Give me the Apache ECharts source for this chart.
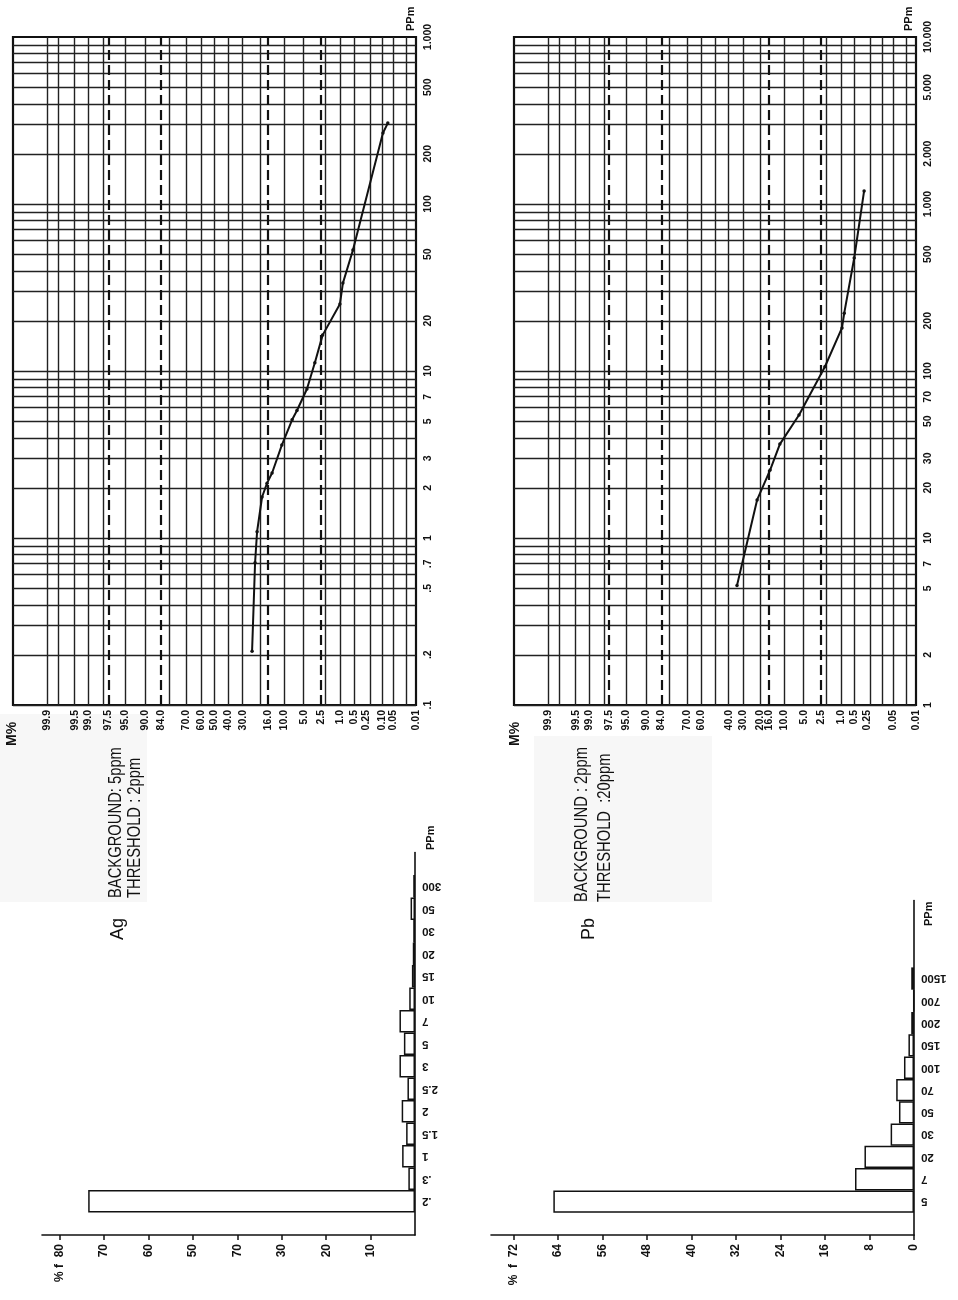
<!DOCTYPE html>
<html>
<head>
<meta charset="utf-8">
<title>Ag / Pb probability plots and histograms</title>
<script src="https://cdn.jsdelivr.net/npm/echarts@6/dist/echarts.min.js"></script>
<style>
  html, body { margin: 0; padding: 0; background: #fff; }
  #chart { width: 958px; height: 1300px; }
</style>
</head>
<body>
<div id="chart"></div>
<script>
var FONT = '"Liberation Sans", Arial, sans-serif';
var INK = '#111';

// cumulative frequency curves, % of samples >= value
var agCumPct = [24.4, 22.7, 21.6, 19.0, 16.6, 14.4, 10.7, 7.6, 6.4, 4.4, 3.2, 2.3, 1.03, 0.89, 0.53, 0.094, 0.069];
var agCumPpm = [0.21, 0.71, 1.09, 1.76, 2.13, 2.45, 3.6, 5.1, 5.8, 7.8, 11.2, 16.4, 25.2, 33.6, 53, 266, 305];
var pbCumPct = [34.2, 21.8, 15.4, 11.5, 6.0, 2.1, 0.94, 0.84, 0.50, 0.29];
var pbCumPpm = [5.2, 16.9, 25.5, 36.5, 54.5, 106, 181, 222, 475, 1197];

// dashed reference lines (mean +-1 and +-2 sigma)
var refPct = [97.5, 84, 16, 2.5];
// rulings of the probability paper
var probRulings = [99.9, 99.8, 99.5, 99, 98, 95, 90, 80, 70, 60, 50, 40, 30, 20, 10, 5, 2, 1, 0.5, 0.2, 0.1, 0.05, 0.02];

var agProbTicks = [99.9, 99.5, 99.0, 97.5, 95.0, 90.0, 84.0, 70.0, 60.0, 50.0, 40.0, 30.0, 16.0, 10.0, 5.0, 2.5, 1.0, 0.5, 0.25, 0.10, 0.05, 0.01];
var agProbLabels = ['99.9', '99.5', '99.0', '97.5', '95.0', '90.0', '84.0', '70.0', '60.0', '50.0', '40.0', '30.0', '16.0', '10.0', '5.0', '2.5', '1.0', '0.5', '0.25', '0.10', '0.05', '0.01'];
var pbProbTicks = [99.9, 99.5, 99.0, 97.5, 95.0, 90.0, 84.0, 70.0, 60.0, 40.0, 30.0, 20.0, 16.0, 10.0, 5.0, 2.5, 1.0, 0.5, 0.25, 0.05, 0.01];
var pbProbLabels = ['99.9', '99.5', '99.0', '97.5', '95.0', '90.0', '84.0', '70.0', '60.0', '40.0', '30.0', '20.0', '16.0', '10.0', '5.0', '2.5', '1.0', '0.5', '0.25', '0.05', '0.01'];

var agPpmTicks = [0.1, 0.2, 0.5, 0.7, 1, 2, 3, 5, 7, 10, 20, 50, 100, 200, 500, 1000];
var agPpmLabels = ['.1', '.2', '.5', '.7', '1', '2', '3', '5', '7', '10', '20', '50', '100', '200', '500', '1.000'];
var pbPpmTicks = [1, 2, 5, 7, 10, 20, 30, 50, 70, 100, 200, 500, 1000, 2000, 5000, 10000];
var pbPpmLabels = ['1', '2', '5', '7', '10', '20', '30', '50', '70', '100', '200', '500', '1.000', '2.000', '5.000', '10.000'];

// histograms (% frequency per class)
var agBins = ['.2', '.3', '1', '1.5', '2', '2.5', '3', '5', '7', '10', '15', '20', '30', '50', '300'];
var agFreq = [73.6, 1.5, 2.9, 2.0, 3.0, 1.7, 3.5, 2.5, 3.5, 1.3, 0.7, 0.5, 0.4, 1.0, 0.4];
var agFreqTicks = [10, 20, 30, 40, 50, 60, 70, 80];
var agFreqLabels = ['10', '20', '30', '70', '50', '60', '70', '80'];

var pbBins = ['5', '7', '20', '30', '50', '70', '100', '150', '200', '700', '1500'];
var pbFreq = [64.8, 10.6, 8.9, 4.2, 2.7, 3.2, 1.8, 1.0, 0.5, 0.1, 0.5];
var pbFreqTicks = [0, 8, 16, 24, 32, 40, 48, 56, 64, 72];
var pbFreqLabels = ['0', '8', '16', '24', '32', '40', '48', '56', '64', '72'];

// normal probability scale (inverse normal cdf, Acklam)
function probit(pct) {
  var p = pct / 100, q, r;
  var a = [-39.69683028665376, 220.9460984245205, -275.9285104469687, 138.3577518672690, -30.66479806614716, 2.506628277459239];
  var b = [-54.47609879822406, 161.5858368580409, -155.6989798598866, 66.80131188771972, -13.28068155288572];
  var c = [-0.007784894002430293, -0.3223964580411365, -2.400758277161838, -2.549732539343734, 4.374664141464968, 2.938163982698783];
  var d = [0.007784695709041462, 0.3224671290700398, 2.445134137142996, 3.754408661907416];
  if (p < 0.02425) {
    q = Math.sqrt(-2 * Math.log(p));
    return (((((c[0] * q + c[1]) * q + c[2]) * q + c[3]) * q + c[4]) * q + c[5]) / ((((d[0] * q + d[1]) * q + d[2]) * q + d[3]) * q + 1);
  }
  if (p > 1 - 0.02425) {
    q = Math.sqrt(-2 * Math.log(1 - p));
    return -(((((c[0] * q + c[1]) * q + c[2]) * q + c[3]) * q + c[4]) * q + c[5]) / ((((d[0] * q + d[1]) * q + d[2]) * q + d[3]) * q + 1);
  }
  q = p - 0.5; r = q * q;
  return (((((a[0] * r + a[1]) * r + a[2]) * r + a[3]) * r + a[4]) * r + a[5]) * q / (((((b[0] * r + b[1]) * r + b[2]) * r + b[3]) * r + b[4]) * r + 1);
}

function nearestLabel(ticks, labels, tf) {
  return function (v) {
    var best = 0, d = Infinity;
    for (var i = 0; i < ticks.length; i++) {
      var e = Math.abs(tf(ticks[i]) - v);
      if (e < d) { d = e; best = i; }
    }
    return labels[best];
  };
}

function logRulings(lo, hi) {
  var out = [];
  for (var e = Math.round(Math.log10(lo)); e < Math.round(Math.log10(hi)); e++) {
    for (var m = 1; m <= 9; m++) out.push(e + Math.log10(m));
  }
  return out;
}

function pad(arr, before, after, fill) {
  var out = [];
  for (var i = 0; i < before; i++) out.push(fill);
  out = out.concat(arr);
  for (var j = 0; j < after; j++) out.push(fill);
  return out;
}

var labelFont = { fontFamily: FONT, fontWeight: 'bold', color: INK };

var xAxes = [], yAxes = [], series = [];

function probPlot(idx, cumPct, cumPpm, probTicks, probLabels, ppmTicks, ppmLabels, ppmMin, ppmMax) {
  xAxes.push({
    gridIndex: idx, type: 'value', inverse: true,
    min: probit(0.01), max: probit(99.99),
    axisLine: { show: false, onZero: false }, axisTick: { show: false }, splitLine: { show: false },
    axisLabel: Object.assign({
      customValues: probTicks.map(probit),
      formatter: nearestLabel(probTicks, probLabels, probit),
      rotate: 90, margin: 5, fontSize: 10.5
    }, labelFont)
  });
  yAxes.push({
    gridIndex: idx, type: 'value', position: 'right',
    min: Math.log10(ppmMin), max: Math.log10(ppmMax),
    axisLine: { show: false, onZero: false }, axisTick: { show: false }, splitLine: { show: false },
    axisLabel: Object.assign({
      customValues: ppmTicks.map(Math.log10),
      formatter: nearestLabel(ppmTicks, ppmLabels, Math.log10),
      rotate: 90, margin: 7, fontSize: 10.5
    }, labelFont)
  });
  // paper rulings
  series.push({
    type: 'line', xAxisIndex: idx, yAxisIndex: idx, data: [], silent: true, z: 1,
    markLine: {
      silent: true, animation: false, symbol: ['none', 'none'], label: { show: false },
      emphasis: { disabled: true },
      lineStyle: { color: '#222', width: 1.4, type: 'solid' },
      data: probRulings.map(function (p) { return { xAxis: probit(p) }; })
        .concat(logRulings(ppmMin, ppmMax).map(function (v) { return { yAxis: v }; }))
    }
  });
  // dashed reference lines
  series.push({
    type: 'line', xAxisIndex: idx, yAxisIndex: idx, data: [], silent: true, z: 2,
    markLine: {
      silent: true, animation: false, symbol: ['none', 'none'], label: { show: false },
      emphasis: { disabled: true },
      lineStyle: { color: INK, width: 2.2, type: [10, 5] },
      data: refPct.map(function (p) { return { xAxis: probit(p) }; })
    }
  });
  // cumulative curve
  series.push({
    type: 'line', xAxisIndex: idx, yAxisIndex: idx, z: 5,
    data: cumPct.map(function (p, i) { return [probit(p), Math.log10(cumPpm[i])]; }),
    symbol: 'circle', symbolSize: 3.5,
    itemStyle: { color: INK }, lineStyle: { color: INK, width: 2 }
  });
}

function histogram(idx, bins, freq, ticks, labels, maxVal, padTop, prefix) {
  var fmt = nearestLabel(ticks, labels, function (v) { return v; });
  var top = ticks[ticks.length - 1];
  xAxes.push({
    gridIndex: idx, type: 'value', inverse: true, min: 0, max: maxVal, position: 'bottom',
    axisLine: { show: true, onZero: false, lineStyle: { color: INK, width: 1.6 } },
    axisTick: { show: true, customValues: ticks, length: 5, lineStyle: { color: INK, width: 1.5 } },
    splitLine: { show: false },
    axisLabel: Object.assign({
      customValues: ticks,
      formatter: function (v) { return (v === top ? prefix : '') + fmt(v); },
      rotate: 90, margin: 9, fontSize: 12
    }, labelFont)
  });
  yAxes.push({
    gridIndex: idx, type: 'category', position: 'right',
    data: pad(bins, 1, padTop, ''),
    axisLine: { show: true, onZero: false, lineStyle: { color: INK, width: 1.6 } },
    axisTick: { show: false },
    axisLabel: Object.assign({ rotate: 180, margin: 7, fontSize: 11.5, interval: 0 }, labelFont)
  });
  series.push({
    type: 'bar', xAxisIndex: idx, yAxisIndex: idx,
    data: pad(freq, 1, padTop, null),
    barCategoryGap: '0%',
    itemStyle: { color: '#fff', borderColor: INK, borderWidth: 1.5 }
  });
}

probPlot(0, agCumPct, agCumPpm, agProbTicks, agProbLabels, agPpmTicks, agPpmLabels, 0.1, 1000);
probPlot(1, pbCumPct, pbCumPpm, pbProbTicks, pbProbLabels, pbPpmTicks, pbPpmLabels, 1, 10000);
histogram(2, agBins, agFreq, agFreqTicks, agFreqLabels, 84, 1, '% f  ');
histogram(3, pbBins, pbFreq, pbFreqTicks, pbFreqLabels, 76, 3, '%  f  ');

// rotated free text, reading bottom to top, anchored at its first character
function vtext(text, x, y, size, weight, squeeze) {
  return {
    type: 'text', x: x, y: y, rotation: Math.PI / 2, scaleX: squeeze || 1, z: 10,
    style: {
      text: text, fill: INK, font: (weight || 'normal') + ' ' + size + 'px ' + FONT,
      align: 'left', verticalAlign: 'middle'
    }
  };
}

var chart = echarts.init(document.getElementById('chart'), null, { renderer: 'canvas' });
chart.setOption({
  animation: false,
  backgroundColor: '#fff',
  grid: [
    { left: 13, top: 37, width: 403, height: 668, show: true, borderColor: INK, borderWidth: 2.2, backgroundColor: 'transparent' },
    { left: 514, top: 37, width: 402, height: 668, show: true, borderColor: INK, borderWidth: 2.2, backgroundColor: 'transparent' },
    { left: 42, top: 1235 - 17 * 22.5, width: 373, height: 17 * 22.5 },
    { left: 491, top: 1235 - 15 * 22.3, width: 423, height: 15 * 22.3 }
  ],
  xAxis: xAxes,
  yAxis: yAxes,
  series: series,
  graphic: [
    { type: 'rect', z: -10, shape: { x: 0, y: 714, width: 147, height: 188 }, style: { fill: '#f7f7f7' } },
    { type: 'rect', z: -10, shape: { x: 534, y: 736, width: 178, height: 166 }, style: { fill: '#f7f7f7' } },
    vtext('M%', 12, 746, 14, 'bold'),
    vtext('M%', 515, 746, 14, 'bold'),
    vtext('PPm', 411, 31, 11, 'bold'),
    vtext('PPm', 909, 31, 11, 'bold'),
    vtext('PPm', 431, 850, 11, 'bold'),
    vtext('PPm', 929, 926, 11, 'bold'),
    vtext('Ag', 118, 940, 18),
    vtext('BACKGROUND: 5ppm', 116, 898, 18, 'normal', 0.82),
    vtext('THRESHOLD : 2ppm', 135, 898, 18, 'normal', 0.82),
    vtext('Pb', 589, 940, 18),
    vtext('BACKGROUND : 2ppm', 582, 902, 18, 'normal', 0.82),
    vtext('THRESHOLD  :20ppm', 605, 902, 18, 'normal', 0.82)
  ]
});
</script>
</body>
</html>
